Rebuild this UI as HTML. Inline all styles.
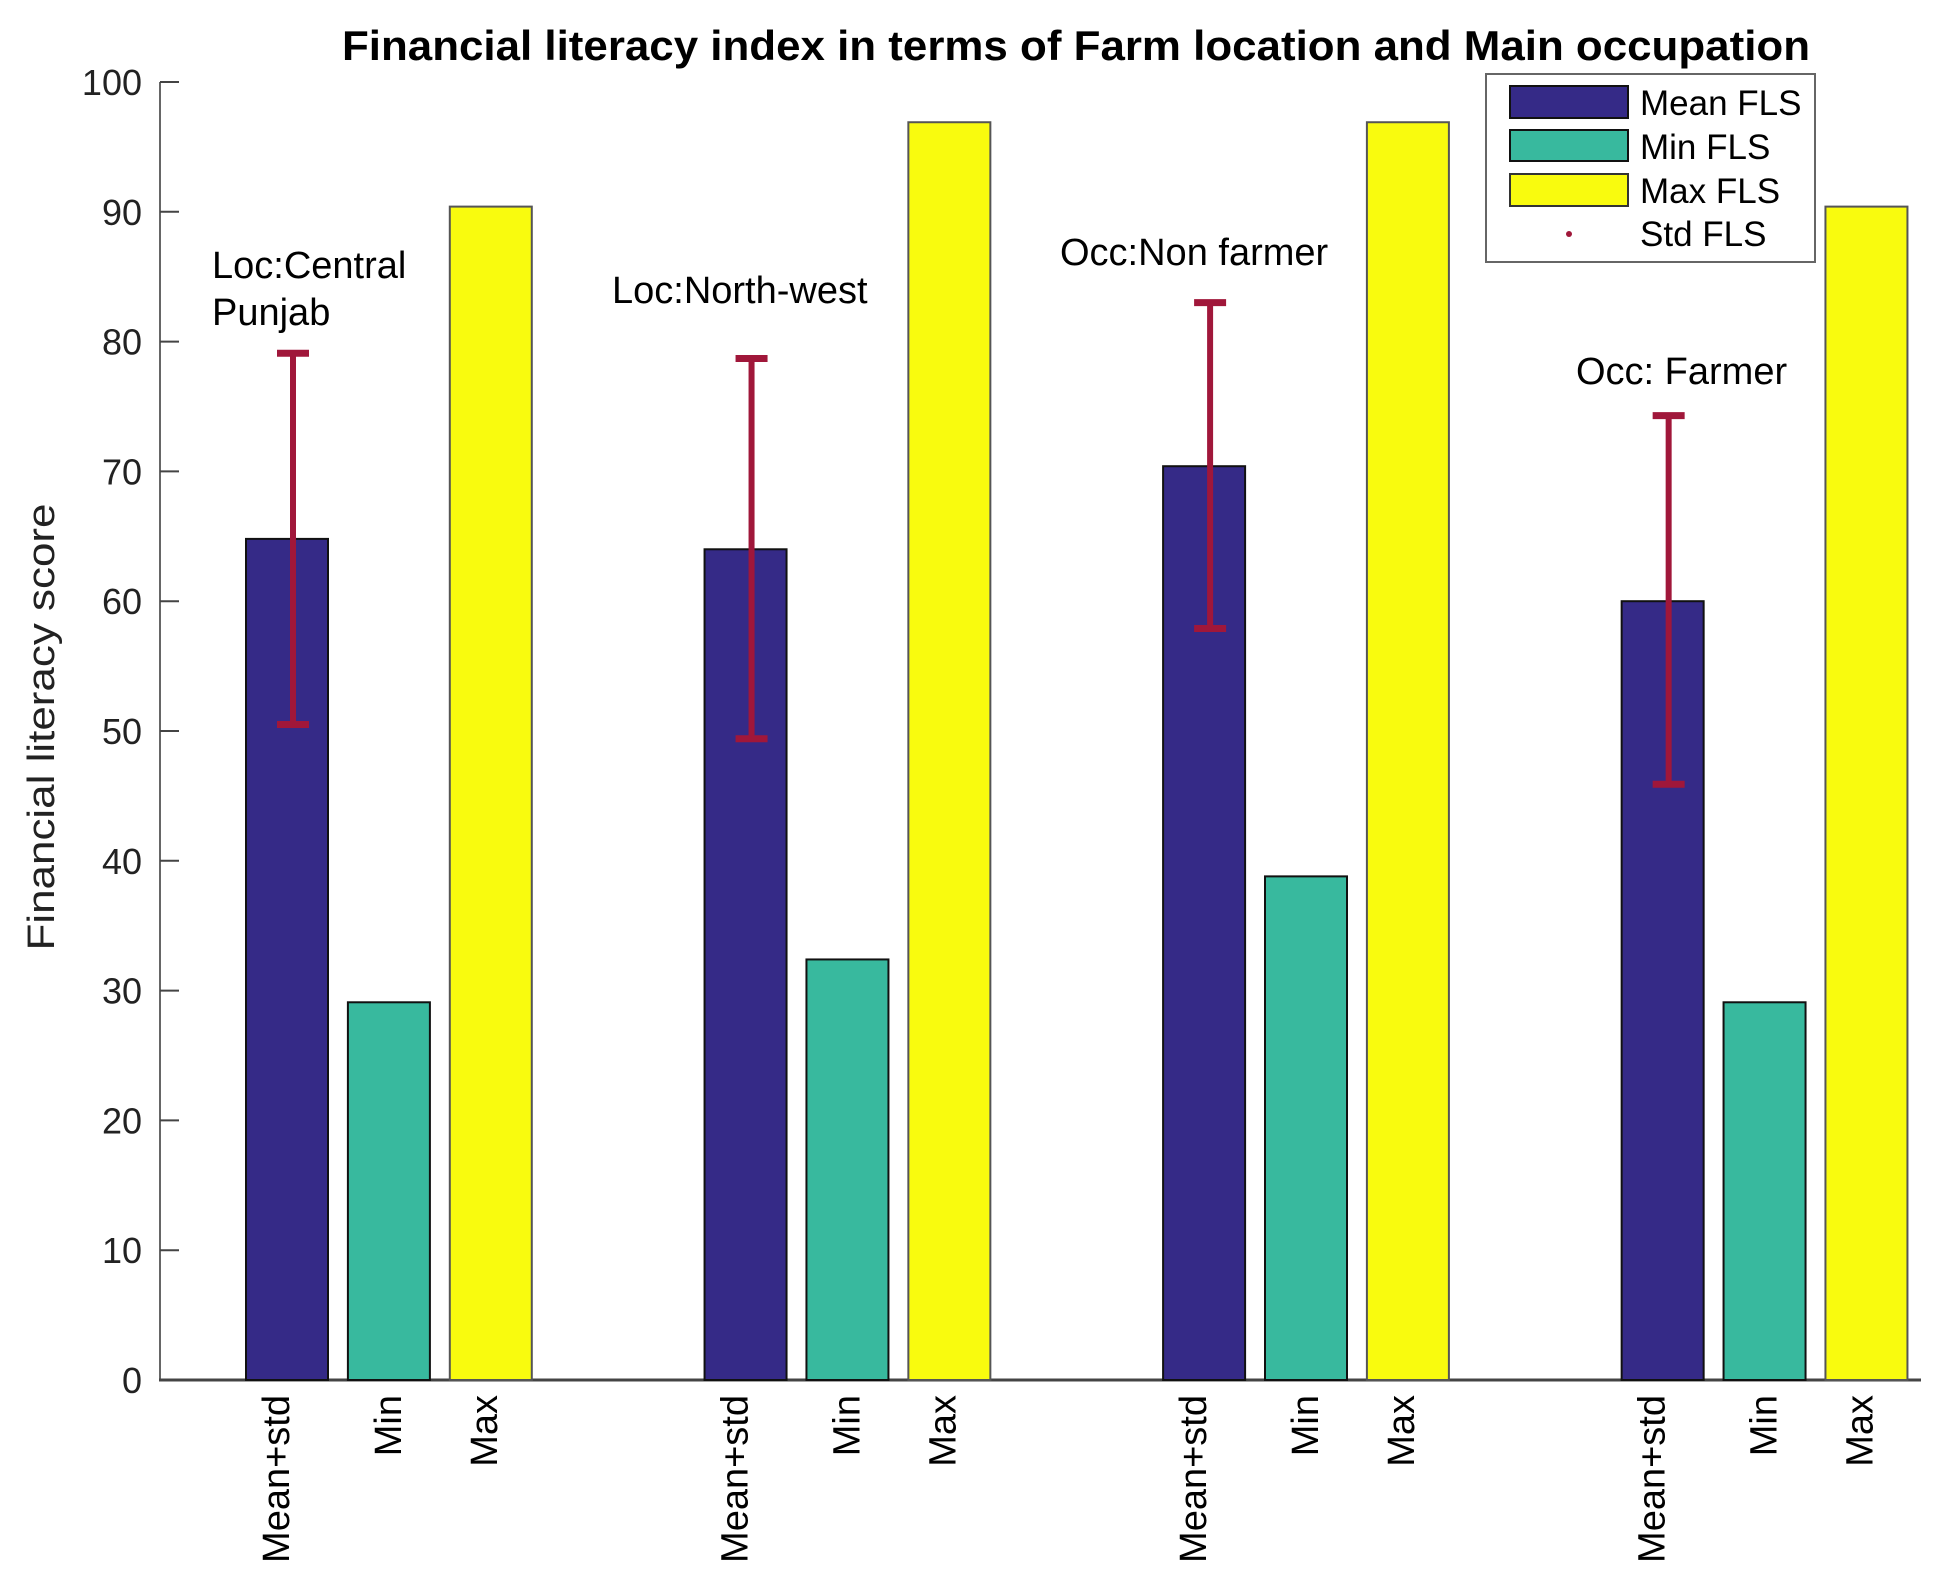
<!DOCTYPE html>
<html><head><meta charset="utf-8"><style>
html,body{margin:0;padding:0;background:#fff;}
svg{display:block;font-family:"Liberation Sans",Arial,sans-serif;}
</style></head><body>
<svg id="chart" width="1947" height="1595" viewBox="0 0 1947 1595">
<text x="1076" y="60" text-anchor="middle" font-size="42" font-weight="bold" textLength="1468" lengthAdjust="spacingAndGlyphs">Financial literacy index in terms of Farm location and Main occupation</text>
<text transform="translate(54,727) rotate(-90)" text-anchor="middle" font-size="38" fill="#222" textLength="447" lengthAdjust="spacingAndGlyphs">Financial literacy score</text>
<g id="yaxis"></g>
<g id="bars"></g>
<g id="errs"></g>
<g id="xlabels"></g>
<g id="annots"></g>
<g>
<rect x="1486" y="74" width="329" height="188" fill="#fff" stroke="#666" stroke-width="2"/>
<rect x="1510" y="86" width="118" height="32" fill="#352a87" stroke="#111" stroke-width="2"/>
<text x="1640" y="115" font-size="35">Mean FLS</text>
<rect x="1510" y="130" width="118" height="31" fill="#38b99e" stroke="#111" stroke-width="2"/>
<text x="1640" y="159" font-size="35">Min FLS</text>
<rect x="1510" y="174" width="118" height="32" fill="#f9fb0e" stroke="#333" stroke-width="2"/>
<text x="1640" y="203" font-size="35">Max FLS</text>
<circle cx="1569" cy="234" r="3" fill="#a0173a"/>
<text x="1640" y="246" font-size="35">Std FLS</text>
</g>
</svg>
<script>
const groups = ["Loc:Central Punjab", "Loc:North-west", "Occ:Non farmer", "Occ: Farmer"];
const meanVals = [64.8, 64.0, 70.4, 60.0];
const minVals = [29.1, 32.4, 38.8, 29.1];
const maxVals = [90.4, 96.9, 96.9, 90.4];
const errUpper = [79.1, 78.7, 83.0, 74.3];
const errLower = [50.5, 49.4, 57.9, 45.9];
const yTicks = [0, 10, 20, 30, 40, 50, 60, 70, 80, 90, 100];
const barLabels = ["Mean+std", "Min", "Max"];

const NS = "http://www.w3.org/2000/svg";
function y(v){ return 1380 - v * 12.98; }
function x(p){ return 287 + (p - 1) * 101.9; }
function mk(tag, attrs, parent){
  const e = document.createElementNS(NS, tag);
  for (const k in attrs) e.setAttribute(k, attrs[k]);
  parent.appendChild(e);
  return e;
}
const yaxis = document.getElementById('yaxis');
const bars = document.getElementById('bars');
const errs = document.getElementById('errs');
const xl = document.getElementById('xlabels');
const an = document.getElementById('annots');

let l = mk('line', {x1:160, y1:y(100), x2:160, y2:y(0), stroke:'#666', 'stroke-width':2}, yaxis);


yTicks.forEach(t => {
  const tk = mk('line', {x1:160, y1:y(t), x2:179, y2:y(t), stroke:'#444', 'stroke-width':2}, yaxis);
  
  
  const tl = mk('text', {x:142, y:y(t)+13, 'text-anchor':'end', 'font-size':36, fill:'#222'}, yaxis);
  tl.textContent = t;
  
  
});

const colors = ["#352a87", "#38b99e", "#f9fb0e"];
const strokes = ["#111", "#111", "#555"];
const labOff = [2, 12, 6];
const annX = [212, 612, 1060, 1576];
const annY = [278, 303, 265, 384];
groups.forEach((g, i) => {
  const base = 1 + i * 4.5;
  const vals = [meanVals[i], minVals[i], maxVals[i]];
  vals.forEach((v, j) => {
    const cx = x(base + j);
    const r = mk('rect', {x:cx-41, y:y(v), width:82, height:y(0)-y(v), fill:colors[j], stroke:strokes[j], 'stroke-width':2}, bars);
    
    
    const t = mk('text', {transform:`translate(${cx+labOff[j]},1395) rotate(-90)`, 'text-anchor':'end', 'font-size':38}, xl);
    t.textContent = barLabels[j];
    
    
  });
  const ex = x(base) + 6;
  const ev = mk('line', {x1:ex, y1:y(errUpper[i]), x2:ex, y2:y(errLower[i]), stroke:'#a0173a', 'stroke-width':6}, errs);
  
  
  [errUpper[i], errLower[i]].forEach(v => {
    const c = mk('line', {x1:ex-16, y1:y(v), x2:ex+16, y2:y(v), stroke:'#a0173a', 'stroke-width':7}, errs);
    
    
  });
  const parts = g === "Loc:Central Punjab" ? ["Loc:Central", "Punjab"] : [g];
  parts.forEach((p, k) => {
    const t = mk('text', {x:annX[i], y:annY[i] + k*47, 'font-size':38}, an);
    t.textContent = p;
    
    
  });
});
const xa = mk('line', {x1:159, y1:y(0), x2:1921, y2:y(0), stroke:'#444', 'stroke-width':3}, yaxis);


</script>
</body></html>
